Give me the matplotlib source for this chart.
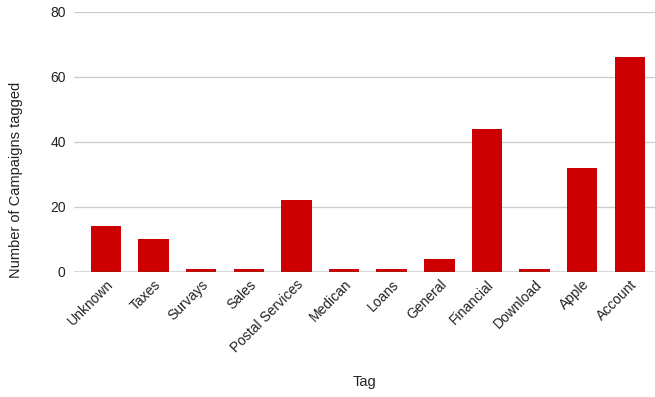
import matplotlib.pyplot as plt

plt.rcParams['font.family'] = ['Liberation Sans', 'DejaVu Sans']

tags = ['Unknown', 'Taxes', 'Survays', 'Sales', 'Postal Services', 'Medican',
        'Loans', 'General', 'Financial', 'Download', 'Apple', 'Account']
counts = [14, 10, 1, 1, 22, 1, 1, 4, 44, 1, 32, 66]
y_ticks = [0, 20, 40, 60, 80]

fig = plt.figure(figsize=(6.55, 3.97), dpi=100)
ax = fig.add_axes([0.113, 0.315, 0.887, 0.655])

x = range(len(tags))
ax.bar(x, counts, width=0.64, color='#cc0000', zorder=3)

ax.set_xlim(-0.67, len(tags) - 0.47)
ax.set_ylim(0, 80)
ax.set_yticks(y_ticks)
ax.set_xticks(list(x))
ax.set_xticklabels(tags, rotation=45, ha='right', rotation_mode='anchor')

ax.grid(axis='y', color='#cccccc', linewidth=0.9, zorder=0)
ax.axhline(0, color='#555555', linewidth=1.0, zorder=4)
for side in ['top', 'right', 'left', 'bottom']:
    ax.spines[side].set_visible(False)
ax.tick_params(axis='both', length=0, labelsize=10, colors='#222222', pad=6)
ax.tick_params(axis='x', pad=4)

ax.set_ylabel('Number of Campaigns tagged', fontsize=10.5, color='#222222')
ax.yaxis.set_label_coords(-0.088, 0.354)
ax.set_xlabel('Tag', fontsize=10.5, color='#222222', labelpad=14)

fig.savefig('out.png', dpi=100)
